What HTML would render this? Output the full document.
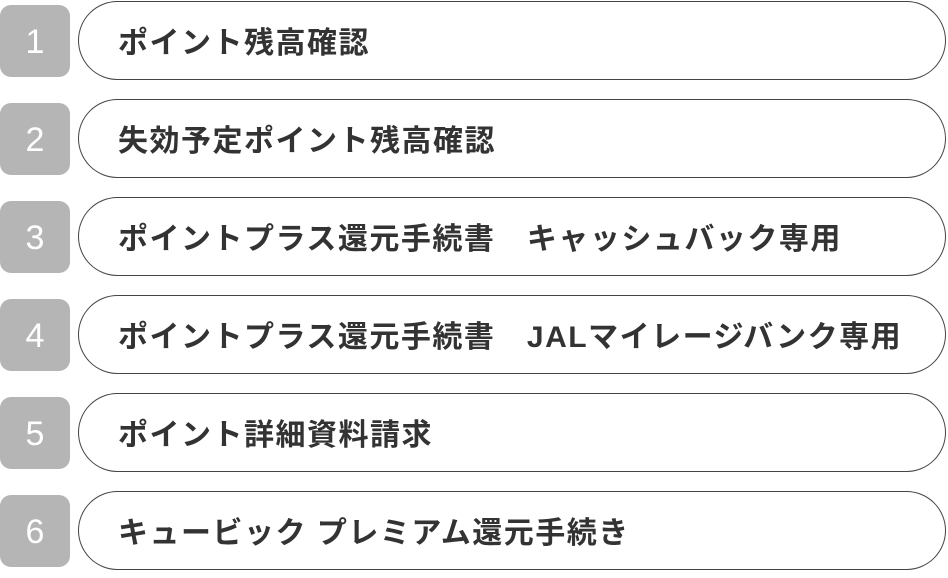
<!DOCTYPE html>
<html><head><meta charset="utf-8"><style>
html,body{margin:0;padding:0;background:#fff;width:948px;height:572px;overflow:hidden}
.row{position:absolute;left:0;width:948px;height:82px}
.num{position:absolute;left:0;top:5px;width:70px;height:72px;background:#b5b5b5;border-radius:11px;color:#fff;font:34px "Liberation Sans",sans-serif;line-height:74px;text-align:center}
.pill{position:absolute;left:78px;top:1px;width:866px;height:77px;border:1.6px solid #444;border-radius:40px;box-sizing:content-box}
.t{position:absolute;left:118px;top:0;height:82px;line-height:88px;font-family:"Liberation Sans","Noto Sans CJK JP",sans-serif;font-weight:bold;font-size:30px;letter-spacing:1.5px;color:#333;white-space:pre}
</style></head><body>
<div class="row" style="top:0"><div class="num">1</div><div class="pill"></div><div class="t">ポイント残高確認</div></div>
<div class="row" style="top:98px"><div class="num">2</div><div class="pill"></div><div class="t">失効予定ポイント残高確認</div></div>
<div class="row" style="top:196px"><div class="num">3</div><div class="pill"></div><div class="t">ポイントプラス還元手続書　キャッシュバック専用</div></div>
<div class="row" style="top:294px"><div class="num">4</div><div class="pill"></div><div class="t">ポイントプラス還元手続書　JALマイレージバンク専用</div></div>
<div class="row" style="top:392px"><div class="num">5</div><div class="pill"></div><div class="t">ポイント詳細資料請求</div></div>
<div class="row" style="top:490px"><div class="num">6</div><div class="pill"></div><div class="t">キュービック プレミアム還元手続き</div></div>
</body></html>
